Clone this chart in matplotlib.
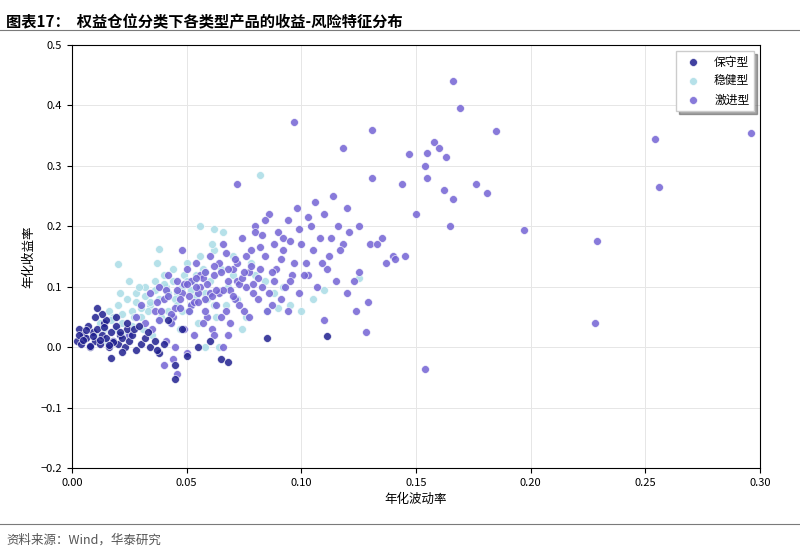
import matplotlib.pyplot as plt

plt.rcParams['font.family'] = ['Noto Sans CJK SC', 'DejaVu Sans']

# 保守型
cons_x = [0.002, 0.003, 0.004, 0.005, 0.006, 0.007, 0.008, 0.009, 0.010, 0.011, 0.012, 0.013,
          0.014, 0.015, 0.016, 0.017, 0.018, 0.019, 0.020, 0.021, 0.022, 0.023, 0.024, 0.025,
          0.026, 0.028, 0.030, 0.032, 0.034, 0.036, 0.038, 0.040, 0.003, 0.006, 0.009, 0.012,
          0.015, 0.018, 0.021, 0.024, 0.027, 0.013, 0.017, 0.011, 0.008, 0.005, 0.019, 0.022,
          0.029, 0.033, 0.045, 0.050, 0.055, 0.065, 0.068, 0.045, 0.060, 0.085, 0.111, 0.048,
          0.042, 0.037, 0.010, 0.014, 0.016]
cons_y = [0.010, 0.030, 0.005, 0.020, 0.015, 0.035, 0.000, 0.025, 0.010, 0.030, 0.005, 0.020,
          0.040, 0.015, 0.000, 0.025, 0.010, 0.035, 0.005, 0.020, 0.015, 0.000, 0.030, 0.010,
          0.020, -0.005, 0.005, 0.015, 0.000, 0.010, -0.010, 0.005, 0.020, 0.028, 0.018, 0.012,
          0.045, 0.008, 0.025, 0.040, 0.030, 0.055, -0.018, 0.065, 0.002, 0.012, 0.050, -0.008,
          0.035, 0.025, -0.030, -0.015, 0.000, -0.020, -0.025, -0.052, 0.010, 0.015, 0.018, 0.030,
          0.045, -0.005, 0.050, 0.033, 0.003]

# 稳健型
mod_x = [0.010, 0.012, 0.014, 0.016, 0.018, 0.020, 0.022, 0.024, 0.026, 0.028, 0.030, 0.032,
         0.034, 0.036, 0.038, 0.040, 0.042, 0.044, 0.046, 0.048, 0.050, 0.052, 0.054, 0.056,
         0.058, 0.060, 0.062, 0.065, 0.068, 0.070, 0.015, 0.019, 0.023, 0.027, 0.031, 0.035,
         0.039, 0.043, 0.047, 0.051, 0.055, 0.059, 0.063, 0.067, 0.021, 0.025, 0.029, 0.033,
         0.037, 0.041, 0.045, 0.049, 0.053, 0.057, 0.061, 0.020, 0.038, 0.056, 0.062, 0.082,
         0.085, 0.072, 0.076, 0.080, 0.088, 0.095, 0.100, 0.105, 0.110, 0.125, 0.090, 0.058,
         0.064, 0.066, 0.074,
         0.017, 0.022, 0.026, 0.030, 0.034, 0.038, 0.042, 0.046, 0.050, 0.054, 0.058, 0.062,
         0.024, 0.028, 0.032, 0.036, 0.040, 0.044, 0.048, 0.052, 0.070, 0.078, 0.084, 0.092]
mod_y = [0.020, 0.040, 0.030, 0.060, 0.050, 0.070, 0.040, 0.080, 0.060, 0.090, 0.050, 0.100,
         0.070, 0.110, 0.080, 0.120, 0.060, 0.130, 0.090, 0.100, 0.140, 0.070, 0.120, 0.150,
         0.090, 0.110, 0.160, 0.130, 0.100, 0.150, 0.010, 0.030, 0.020, 0.050, 0.030, 0.020,
         0.050, 0.040, 0.030, 0.060, 0.040, 0.080, 0.050, 0.070, 0.090, 0.110, 0.100, 0.060,
         0.140, 0.100, 0.080, 0.120, 0.110, 0.130, 0.170, 0.137, 0.163, 0.200, 0.195, 0.285,
         0.060, 0.080, 0.050, 0.120, 0.090, 0.070, 0.060, 0.080, 0.095, 0.115, 0.065, 0.000,
         0.000, 0.190, 0.030,
         0.045, 0.055, 0.035, 0.065, 0.075, 0.045, 0.090, 0.070, 0.110, 0.085, 0.125, 0.070,
         0.020, 0.075, 0.085, 0.095, 0.105, 0.110, 0.060, 0.095, 0.120, 0.140, 0.110, 0.100]

# 激进型
agg_x = [0.025, 0.028, 0.030, 0.032, 0.034, 0.036, 0.038, 0.040, 0.042, 0.044, 0.046, 0.048,
         0.050, 0.052, 0.054, 0.056, 0.058, 0.060, 0.062, 0.064, 0.066, 0.068, 0.070, 0.072,
         0.074, 0.076, 0.078, 0.080, 0.082, 0.084, 0.086, 0.088, 0.090, 0.092, 0.094, 0.096,
         0.098, 0.100, 0.102, 0.104, 0.106, 0.108, 0.110, 0.112, 0.114, 0.116, 0.118, 0.120,
         0.035, 0.039, 0.043, 0.047, 0.051, 0.055, 0.059, 0.063, 0.067, 0.071, 0.075, 0.079,
         0.083, 0.087, 0.091, 0.095, 0.099, 0.103, 0.107, 0.111, 0.115, 0.041, 0.045, 0.049,
         0.053, 0.057, 0.061, 0.065, 0.069, 0.073, 0.077, 0.081, 0.085, 0.089, 0.093, 0.097,
         0.101, 0.105, 0.109, 0.113, 0.117, 0.121, 0.125, 0.130, 0.135, 0.140, 0.044, 0.048,
         0.052, 0.056, 0.060, 0.064, 0.068, 0.072, 0.076, 0.080, 0.084, 0.088, 0.092, 0.050,
         0.040, 0.046, 0.054, 0.058, 0.062, 0.066,
         0.166, 0.169, 0.097, 0.185, 0.296, 0.254, 0.131, 0.158, 0.160, 0.155, 0.147, 0.163,
         0.118, 0.154, 0.176, 0.181, 0.256, 0.162, 0.166, 0.144, 0.155, 0.131, 0.197, 0.229,
         0.165, 0.228, 0.154, 0.145, 0.141, 0.125, 0.120, 0.129, 0.124, 0.123, 0.137, 0.150,
         0.110, 0.128, 0.133,
         0.037, 0.041, 0.045, 0.049, 0.053, 0.057, 0.061, 0.065, 0.069, 0.073, 0.077, 0.081,
         0.038, 0.042, 0.046, 0.050, 0.054, 0.058, 0.062, 0.066, 0.070, 0.074, 0.078, 0.082,
         0.043, 0.047, 0.051, 0.055, 0.059, 0.063, 0.067, 0.071, 0.075, 0.079, 0.083, 0.087,
         0.091, 0.095, 0.099, 0.103, 0.072, 0.068, 0.086, 0.094]
agg_y = [0.020, 0.050, 0.070, 0.040, 0.090, 0.060, 0.100, 0.080, 0.120, 0.050, 0.110, 0.090,
         0.130, 0.070, 0.140, 0.100, 0.080, 0.150, 0.120, 0.090, 0.170, 0.110, 0.130, 0.140,
         0.180, 0.100, 0.160, 0.200, 0.130, 0.150, 0.220, 0.110, 0.190, 0.160, 0.210, 0.120,
         0.230, 0.170, 0.140, 0.200, 0.240, 0.180, 0.220, 0.150, 0.250, 0.200, 0.170, 0.230,
         0.030, 0.060, 0.040, 0.080, 0.060, 0.090, 0.050, 0.070, 0.060, 0.080, 0.060, 0.090,
         0.100, 0.070, 0.080, 0.110, 0.090, 0.120, 0.100, 0.130, 0.110, 0.010, 0.000, 0.030,
         0.020, 0.040, 0.030, 0.050, 0.040, 0.070, 0.050, 0.080, 0.060, 0.130, 0.100, 0.140,
         0.120, 0.160, 0.140, 0.180, 0.160, 0.190, 0.200, 0.170, 0.180, 0.150, -0.020, 0.160,
         0.110, 0.120, 0.090, 0.140, 0.130, 0.110, 0.150, 0.190, 0.210, 0.170, 0.180, -0.010,
         -0.030, -0.045, 0.100, 0.060, 0.020, 0.000,
         0.440, 0.395, 0.372, 0.357, 0.355, 0.345, 0.360, 0.340, 0.330, 0.322, 0.320, 0.315,
         0.330, 0.300, 0.270, 0.255, 0.265, 0.260, 0.245, 0.270, 0.280, 0.280, 0.193, 0.175,
         0.200, 0.040, -0.037, 0.150, 0.145, 0.125, 0.090, 0.075, 0.060, 0.110, 0.140, 0.220,
         0.045, 0.025, 0.170,
         0.075, 0.095, 0.065, 0.105, 0.075, 0.115, 0.085, 0.125, 0.095, 0.105, 0.125, 0.115,
         0.045, 0.085, 0.095, 0.105, 0.115, 0.125, 0.135, 0.095, 0.085, 0.115, 0.135, 0.165,
         0.055, 0.065, 0.085, 0.075, 0.105, 0.095, 0.155, 0.145, 0.125, 0.105, 0.185, 0.125,
         0.145, 0.175, 0.195, 0.215, 0.270, 0.020, 0.090, 0.060]

fig = plt.figure(figsize=(8.0, 5.48), dpi=100)
fig.text(0.008, 0.975, '图表17：  权益仓位分类下各类型产品的收益-风险特征分布',
         fontsize=11, fontweight='bold', va='top')
fig.add_artist(plt.Line2D([0.0, 1.0], [0.945, 0.945], color='#7a7a7a', lw=0.8))
fig.add_artist(plt.Line2D([0.0, 1.0], [0.043, 0.043], color='#7a7a7a', lw=0.8))
fig.text(0.008, 0.008, '资料来源：Wind，华泰研究', fontsize=9, color='#555555')

ax = fig.add_axes([0.09, 0.146, 0.86, 0.772])
kw = dict(s=32, edgecolors='white', linewidths=0.5, alpha=0.85)
ax.scatter(cons_x, cons_y, color='#1f1f8f', label='保守型', zorder=3, **kw)
ax.scatter(mod_x, mod_y, color='#a9dce6', label='稳健型', zorder=2, **kw)
ax.scatter(agg_x, agg_y, color='#7363d4', label='激进型', zorder=2.5, **kw)

ax.set_xlim(0, 0.30)
ax.set_ylim(-0.2, 0.5)
ax.set_xticks([0.0, 0.05, 0.10, 0.15, 0.20, 0.25, 0.30])
ax.set_xticklabels(['0.00', '0.05', '0.10', '0.15', '0.20', '0.25', '0.30'])
ax.tick_params(labelsize=8)
ax.grid(color='#e6e6e6', lw=0.7)
ax.set_axisbelow(True)
ax.set_xlabel('年化波动率', fontsize=9)
ax.set_ylabel('年化收益率', fontsize=9)
ax.legend(loc='upper right', fontsize=8.5, shadow=True, fancybox=False)
fig.savefig('out.png')
